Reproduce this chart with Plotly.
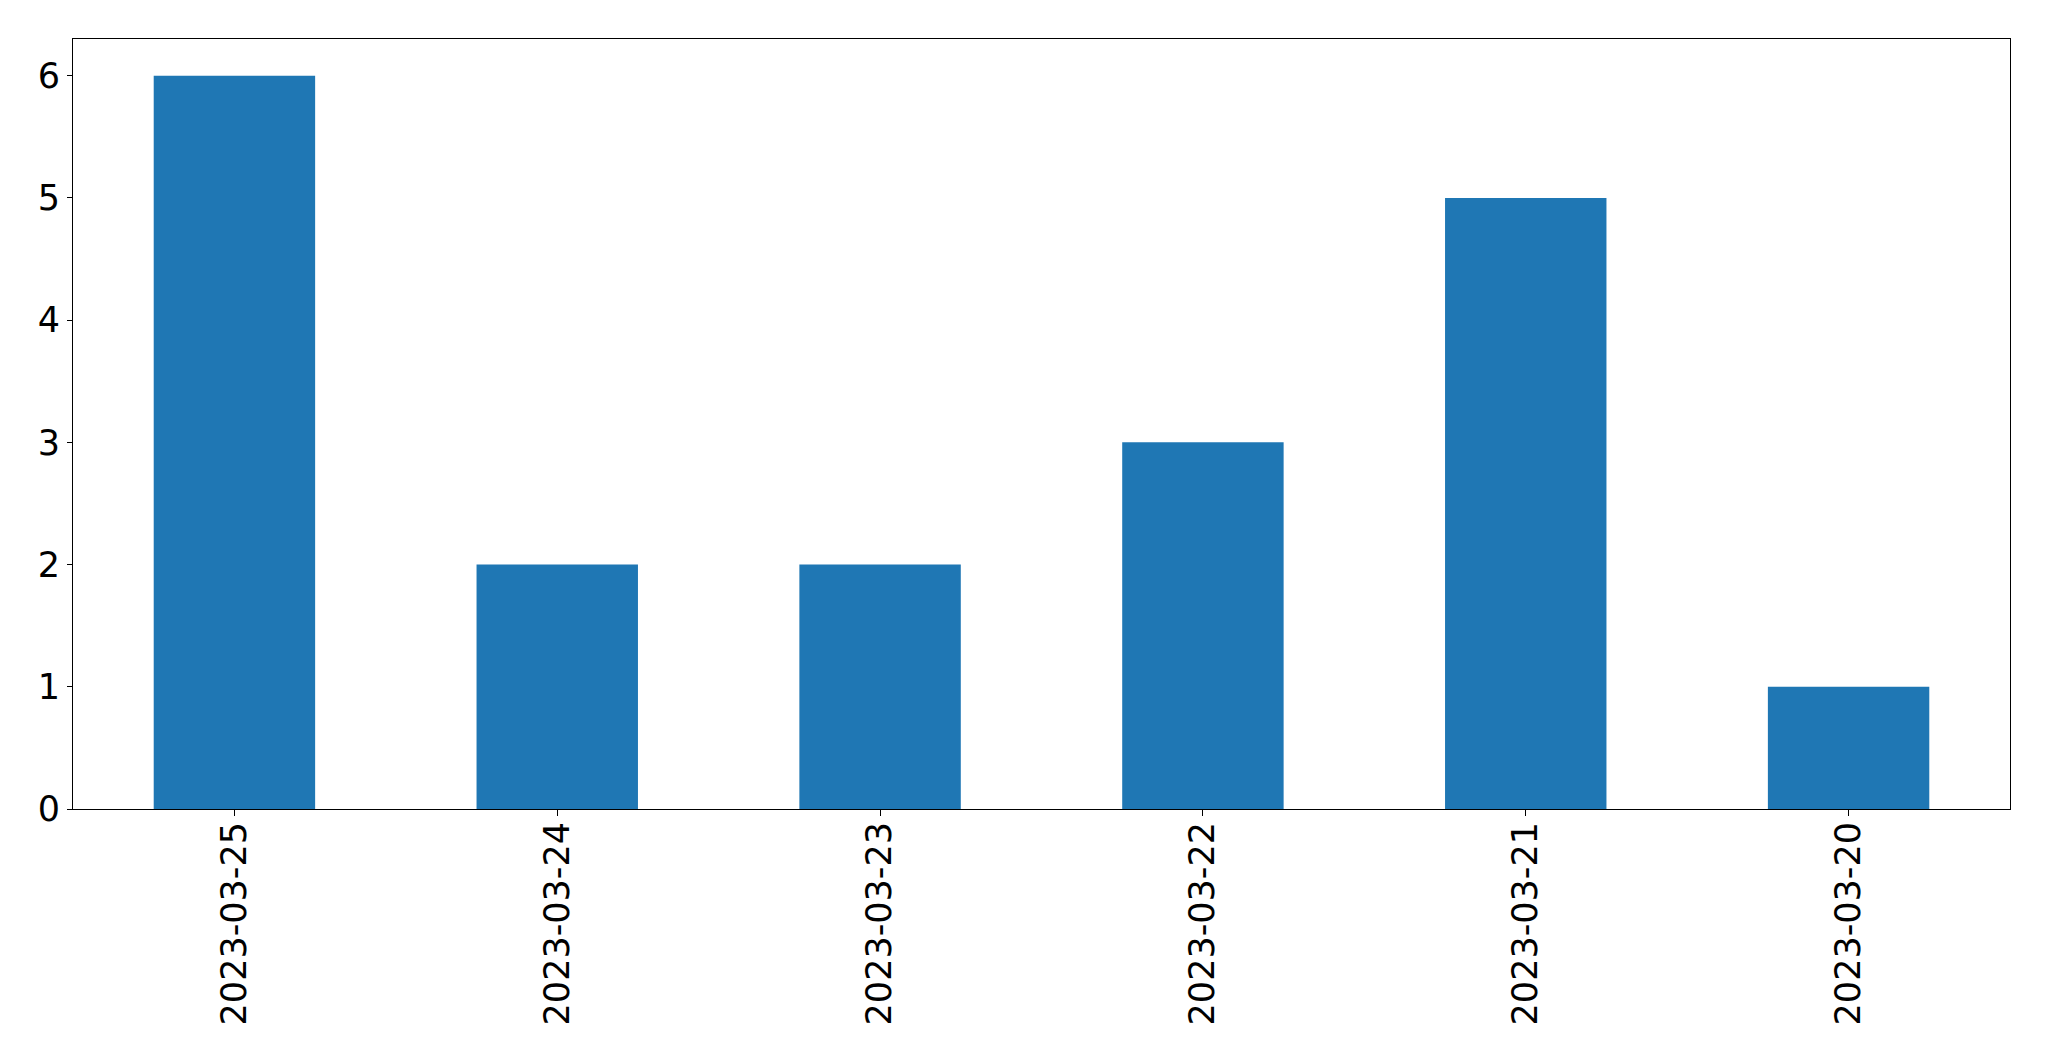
import plotly.graph_objects as go

dates = ["2023-03-25", "2023-03-24", "2023-03-23", "2023-03-22", "2023-03-21", "2023-03-20"]
counts = [6, 2, 2, 3, 5, 1]
y_ticks = [0, 1, 2, 3, 4, 5, 6]

fig = go.Figure(go.Bar(x=list(range(len(dates))), y=counts, width=0.5,
                       marker=dict(color="#1f77b4", line=dict(width=0))))

font = dict(family="DejaVu Sans", size=35, color="black")
fig.update_layout(
    width=2033, height=1045,
    margin=dict(l=65, r=31, t=31, b=244, pad=0),
    paper_bgcolor="white", plot_bgcolor="white",
    showlegend=False,
    font=font,
)
fig.update_xaxes(
    range=[-0.5, len(dates) - 0.5],
    tickmode="array", tickvals=list(range(len(dates))), ticktext=dates,
    tickangle=-90, tickfont=font,
    showline=True, linecolor="black", linewidth=1, mirror=True,
    ticks="outside", ticklen=6, tickwidth=1, tickcolor="black",
    ticklabelstandoff=-8,
    showgrid=False, zeroline=False,
)
fig.update_yaxes(
    range=[0, 6.3],
    tickmode="array", tickvals=y_ticks, ticktext=[str(v) for v in y_ticks],
    tickfont=font,
    showline=True, linecolor="black", linewidth=1, mirror=True,
    ticks="outside", ticklen=5, tickwidth=1, tickcolor="black",
    showgrid=False, zeroline=False,
)
fig.write_html("out.html")
